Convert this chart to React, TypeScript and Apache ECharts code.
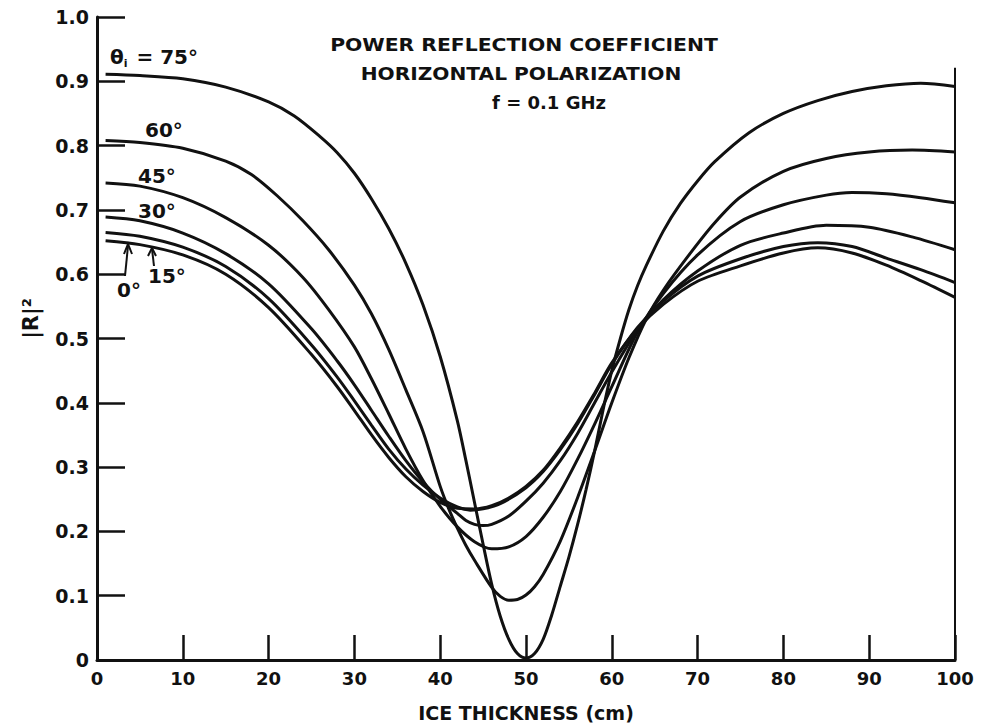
import React, { useEffect, useRef } from "react";
import * as echarts from "echarts";

// Ice thickness (cm) and |R|^2 for each incidence angle
const x75 = [1, 5, 10, 15, 20, 23, 26, 28, 30, 32, 34, 36, 38, 40, 42, 43, 44, 45, 46, 47, 48, 49, 50, 51, 52, 53, 54, 55, 56, 57, 58, 59, 60, 61, 62, 63, 64, 66, 68, 70, 72, 76, 80, 84, 88, 92, 96, 100];
const r75 = [0.911, 0.909, 0.904, 0.891, 0.868, 0.846, 0.814, 0.789, 0.757, 0.717, 0.671, 0.617, 0.552, 0.472, 0.372, 0.31, 0.245, 0.18, 0.118, 0.068, 0.032, 0.01, 0.003, 0.01, 0.032, 0.07, 0.115, 0.16, 0.21, 0.265, 0.325, 0.39, 0.45, 0.5, 0.545, 0.582, 0.613, 0.667, 0.71, 0.745, 0.775, 0.82, 0.85, 0.87, 0.884, 0.893, 0.897, 0.892];

const x60 = [1, 5, 10, 15, 18, 21, 24, 27, 30, 32, 34, 36, 38, 40, 41, 42, 43, 44, 46, 47, 48, 49, 50, 51, 52, 54, 56, 58, 60, 62, 64, 66, 69, 72, 75, 80, 85, 90, 95, 100];
const r60 = [0.808, 0.805, 0.796, 0.776, 0.755, 0.722, 0.683, 0.638, 0.583, 0.538, 0.483, 0.42, 0.355, 0.27, 0.235, 0.205, 0.178, 0.155, 0.113, 0.099, 0.093, 0.094, 0.101, 0.114, 0.133, 0.185, 0.252, 0.325, 0.4, 0.47, 0.53, 0.575, 0.63, 0.68, 0.72, 0.76, 0.78, 0.79, 0.793, 0.79];

const x45 = [1, 5, 10, 15, 20, 24, 27, 30, 32, 34, 36, 38, 40, 42, 44, 46, 48, 50, 52, 54, 56, 58, 60, 63, 66, 70, 75, 80, 85, 88, 92, 96, 100];
const r45 = [0.742, 0.737, 0.719, 0.688, 0.645, 0.595, 0.545, 0.487, 0.437, 0.383, 0.328, 0.279, 0.239, 0.207, 0.184, 0.173, 0.176, 0.192, 0.222, 0.262, 0.312, 0.367, 0.425, 0.51, 0.57, 0.63, 0.682, 0.708, 0.723, 0.727, 0.725, 0.719, 0.711];

const x30 = [1, 5, 10, 15, 20, 25, 28, 30, 32, 34, 36, 38, 40, 42, 43, 44, 45, 46, 48, 50, 52, 54, 56, 58, 60, 63, 66, 70, 75, 80, 85, 90, 95, 100];
const r30 = [0.689, 0.683, 0.664, 0.632, 0.585, 0.515, 0.465, 0.428, 0.388, 0.348, 0.31, 0.277, 0.25, 0.228, 0.217, 0.211, 0.209, 0.211, 0.224, 0.247, 0.275, 0.31, 0.352, 0.4, 0.448, 0.513, 0.56, 0.605, 0.645, 0.664, 0.676, 0.673, 0.658, 0.638];

const x15 = [1, 5, 10, 15, 20, 25, 28, 30, 32, 34, 36, 38, 40, 42, 43.5, 45, 47, 50, 52, 54, 56, 58, 60, 63, 66, 70, 75, 80, 84, 88, 92, 96, 100];
const r15 = [0.665, 0.659, 0.642, 0.612, 0.562, 0.49, 0.44, 0.403, 0.365, 0.328, 0.297, 0.272, 0.252, 0.238, 0.233, 0.235, 0.243, 0.268, 0.293, 0.327, 0.367, 0.413, 0.46, 0.517, 0.558, 0.597, 0.624, 0.643, 0.649, 0.643, 0.625, 0.607, 0.587];

const x0 = [1, 5, 10, 15, 20, 25, 28, 30, 32, 34, 36, 38, 40, 42, 44, 46, 48, 50, 52, 54, 56, 58, 60, 63, 66, 70, 75, 80, 84, 88, 92, 96, 100];
const r0 = [0.652, 0.646, 0.63, 0.6, 0.548, 0.475, 0.425, 0.388, 0.35, 0.315, 0.285, 0.262, 0.245, 0.236, 0.235, 0.24, 0.252, 0.27, 0.295, 0.33, 0.37, 0.415, 0.462, 0.515, 0.553, 0.589, 0.613, 0.633, 0.641, 0.633, 0.614, 0.59, 0.564];

const curves = [
  { name: "75°", x: x75, r: r75 },
  { name: "60°", x: x60, r: r60 },
  { name: "45°", x: x45, r: r45 },
  { name: "30°", x: x30, r: r30 },
  { name: "15°", x: x15, r: r15 },
  { name: "0°", x: x0, r: r0 },
];

const frameTop = 0.921; // right frame line extent (|R|^2)
const titleLines = ["POWER REFLECTION COEFFICIENT", "HORIZONTAL POLARIZATION", "f = 0.1 GHz"];

const FONT = "DejaVu Sans";

export default function App() {
  const ref = useRef<HTMLDivElement>(null);
  useEffect(() => {
    if (!ref.current) return;
    const chart = echarts.init(ref.current, null, { renderer: "svg" });
    const ink = "#111";
    const txt = (x: number, y: number, text: string, size = 17, align = "left", sx = 1) => ({
      type: "text",
      x,
      y,
      scaleX: sx,
      style: { text, fill: ink, font: `bold ${size}px "${FONT}"`, textAlign: align, textVerticalAlign: "middle" },
    });
    const series: any[] = curves.map((c) => ({
      type: "line",
      name: c.name,
      data: c.x.map((x, i) => [x, c.r[i]]),
      smooth: 0.3,
      symbol: "none",
      lineStyle: { color: ink, width: 3 },
      z: 3,
    }));
    series.push({
      type: "line",
      name: "frame",
      data: [],
      markLine: {
        silent: true,
        symbol: "none",
        label: { show: false },
        lineStyle: { color: ink, width: 2, type: "solid" },
        data: [[{ coord: [100, 0] }, { coord: [100, frameTop] }]],
      },
    });
    chart.setOption({
      animation: false,
      backgroundColor: "#fff",
      grid: { left: 97, top: 17, width: 858, height: 644 },
      xAxis: {
        type: "value",
        min: 0,
        max: 100,
        interval: 10,
        name: "ICE THICKNESS (cm)",
        nameLocation: "middle",
        nameGap: 43,
        nameTextStyle: { color: ink, fontFamily: FONT, fontWeight: "bold", fontSize: 19 },
        axisLine: { lineStyle: { color: ink, width: 3 } },
        axisTick: { inside: true, length: 25, lineStyle: { color: ink, width: 2.5 } },
        axisLabel: { color: ink, fontFamily: FONT, fontWeight: "bold", fontSize: 18, margin: 9 },
        splitLine: { show: false },
      },
      yAxis: {
        type: "value",
        min: 0,
        max: 1,
        interval: 0.1,
        name: "|R|²",
        nameLocation: "middle",
        nameRotate: 90,
        nameGap: 56,
        nameTextStyle: { color: ink, fontFamily: FONT, fontWeight: "bold", fontSize: 21, padding: [0, 0, 0, 40] },
        axisLine: { lineStyle: { color: ink, width: 3 } },
        axisTick: { inside: true, length: 28, lineStyle: { color: ink, width: 2.5 } },
        axisLabel: {
          color: ink,
          fontFamily: FONT,
          fontWeight: "bold",
          fontSize: 19,
          margin: 8,
          formatter: (v: number) => (v === 0 ? "0" : v.toFixed(1)),
        },
        splitLine: { show: false },
      },
      series,
      graphic: [
        txt(524, 45, titleLines[0], 18, "center", 1.13),
        txt(521, 74, titleLines[1], 18, "center", 1.12),
        txt(549, 102, titleLines[2], 18, "center", 1),
        {
          type: "text",
          x: 110,
          y: 57,
          style: {
            text: "{t|θ}{s|i}{t| = 75°}",
            fill: ink,
            textVerticalAlign: "middle",
            rich: {
              t: { font: `bold 20px "${FONT}"`, fill: ink },
              s: { font: `bold 11px "${FONT}"`, fill: ink, padding: [12, 2, 0, 0] },
            },
          },
        },
        txt(145, 130, "60°", 20),
        txt(138, 176, "45°", 20),
        txt(138, 211, "30°", 20),
        txt(117, 290, "0°", 20),
        txt(148, 276, "15°", 20),
        { type: "line", shape: { x1: 125, y1: 276, x2: 128, y2: 246 }, style: { stroke: ink, lineWidth: 2 } },
        { type: "polyline", shape: { points: [[124, 254], [128, 244], [132, 254]] }, style: { stroke: ink, lineWidth: 2, fill: null } },
        { type: "line", shape: { x1: 154, y1: 266, x2: 152, y2: 249 }, style: { stroke: ink, lineWidth: 2 } },
        { type: "polyline", shape: { points: [[148, 256], [152, 248], [156, 256]] }, style: { stroke: ink, lineWidth: 2, fill: null } },
      ],
    });
    return () => chart.dispose();
  }, []);
  return <div ref={ref} style={{ position: "fixed", left: 0, top: 0, width: 984, height: 727 }} />;
}
